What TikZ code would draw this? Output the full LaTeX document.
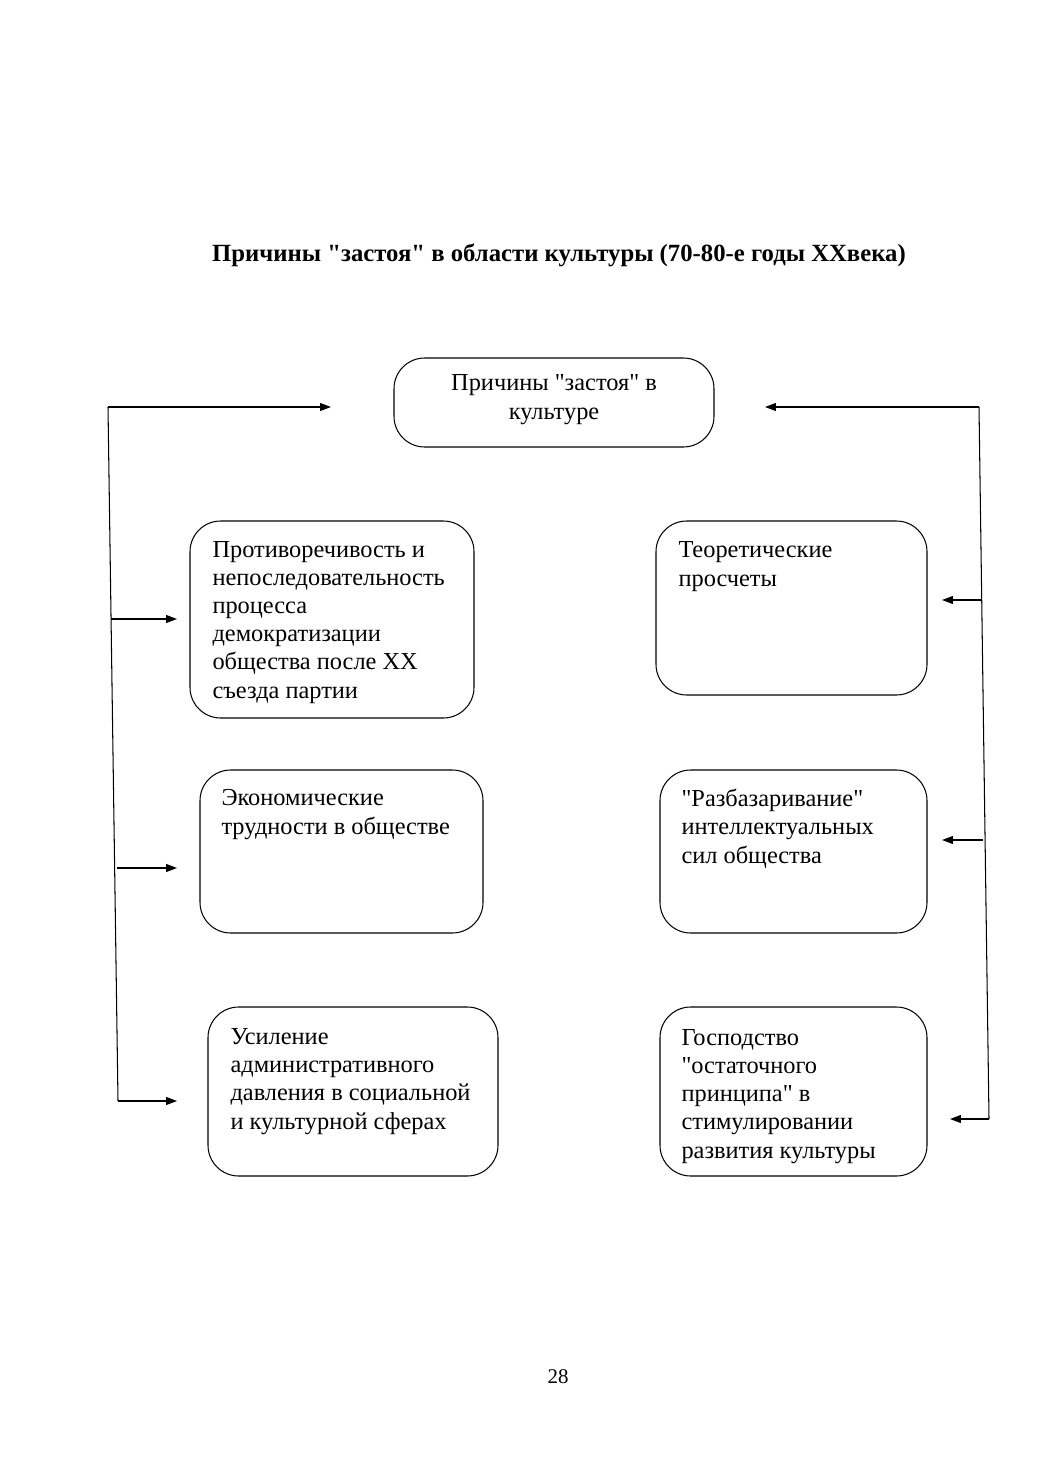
\documentclass[tikz,border=0pt]{standalone}
\usepackage{fontspec}
\setmainfont{Liberation Serif}[Ligatures=TeXOff]
\usetikzlibrary{fit,arrows.meta}

\tikzset{
  cause/.style={draw, rounded corners=6.2mm, line width=0.6pt, inner sep=0pt},
  txt/.style={anchor=base west, align=left, inner sep=0pt, font=\fontsize{14pt}{16.2pt}\selectfont},
  arr/.style={-{Triangle[length=2.2mm,width=1.6mm]}, line width=0.6pt}
}

\begin{document}
\begin{tikzpicture}[x=0.2019mm,y=-0.2019mm,line width=0.6pt]
\useasboundingbox (0,0) rectangle (1040,1473);
\node[anchor=base, inner sep=0pt, font=\bfseries\fontsize{14.2pt}{16.4pt}\selectfont] (title) at (559,262) {Причины "застоя" в области культуры (70-80-е годы XXвека)};
% top box (text nodes sit on their last baseline)
\node[cause, fit={(394,358) (714,447)}] (top) {};
\node[txt, anchor=base, align=center] (toptext) at (554,419) {Причины "застоя" в\\культуре};
% left column
\node[cause, fit={(190,521) (474,718)}] (l1) {};
\node[txt] (l1text) at (212,698) {Противоречивость и\\непоследовательность\\процесса\\демократизации\\общества после XX\\съезда партии};
\node[cause, fit={(200,770) (483,933)}] (l2) {};
\node[txt] (l2text) at (221,834) {Экономические\\трудности в обществе};
\node[cause, fit={(208,1007) (498,1176)}] (l3) {};
\node[txt] (l3text) at (230,1129) {Усиление\\административного\\давления в социальной\\и культурной сферах};
% right column
\node[cause, fit={(656,521) (927,695)}] (r1) {};
\node[txt] (r1text) at (678,586) {Теоретические\\просчеты};
\node[cause, fit={(660,770) (927,933)}] (r2) {};
\node[txt] (r2text) at (681,863) {"Разбазаривание"\\интеллектуальных\\сил общества};
\node[cause, fit={(660,1007) (927,1176)}] (r3) {};
\node[txt] (r3text) at (681,1158) {Господство\\"остаточного\\принципа" в\\стимулировании\\развития культуры};
% left connectors
\coordinate (ltop) at (108,407);
\coordinate (lbot) at (118,1101);
\coordinate (l1in) at (111,619);
\coordinate (l2in) at (117,868);
\coordinate (ltip) at (331,407);
\coordinate (l1tip) at (177,619);
\coordinate (l2tip) at (177,868);
\coordinate (l3tip) at (177,1101);
\draw (ltop) -- (lbot);
\draw[arr] (ltop) -- (ltip);
\draw[arr] (l1in) -- (l1tip);
\draw[arr] (l2in) -- (l2tip);
\draw[arr] (lbot) -- (l3tip);
% right connectors
\coordinate (rtop) at (979,407);
\coordinate (rbot) at (989,1119);
\coordinate (r1in) at (982,600);
\coordinate (r2in) at (983,840);
\coordinate (rtip) at (765,407);
\coordinate (r1tip) at (942,600);
\coordinate (r2tip) at (942,840);
\coordinate (r3tip) at (950,1119);
\draw (rtop) -- (rbot);
\draw[arr] (rtop) -- (rtip);
\draw[arr] (r1in) -- (r1tip);
\draw[arr] (r2in) -- (r2tip);
\draw[arr] (rbot) -- (r3tip);
% page number
\node[anchor=base, inner sep=0pt, font=\fontsize{12pt}{14pt}\selectfont] (page) at (558,1383) {28};
\end{tikzpicture}
\end{document}
